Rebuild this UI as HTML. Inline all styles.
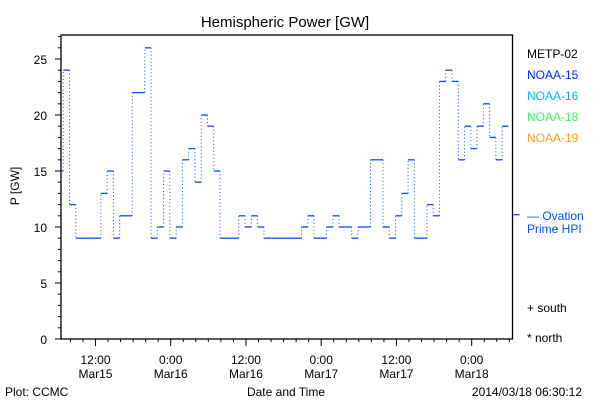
<!DOCTYPE html>
<html><head><meta charset="utf-8"><style>
body{margin:0;background:#fff;}
svg text{font-family:"Liberation Sans",sans-serif;}
</style></head><body>
<svg id="c" width="600" height="400" viewBox="0 0 600 400" xmlns="http://www.w3.org/2000/svg">
<rect width="600" height="400" fill="#fff"/>
<text x="285" y="27" font-size="15" text-anchor="middle">Hemispheric Power [GW]</text>
<text x="19" y="186" font-size="12" text-anchor="middle" transform="rotate(-90 19 186)">P [GW]</text>
<text x="5" y="396" font-size="12">Plot: CCMC</text>
<text x="286" y="396" font-size="12" text-anchor="middle">Date and Time</text>
<text x="582" y="396" font-size="12" text-anchor="end">2014/03/18 06:30:12</text>
<g font-size="12">
<text x="527" y="58" fill="#000">METP-02</text>
<text x="527" y="79" fill="#0028ff">NOAA-15</text>
<text x="527" y="100" fill="#00b4ff">NOAA-16</text>
<text x="527" y="121" fill="#40f060">NOAA-18</text>
<text x="527" y="142" fill="#ff9a20">NOAA-19</text>
<text x="527" y="220" fill="#0050ff">— Ovation</text>
<text x="527" y="233" fill="#0050ff">Prime HPI</text>
<text x="527" y="312" fill="#000">+ south</text>
<text x="527" y="342" fill="#000">* north</text>
</g>
<g id="axes"></g>
<g id="series"></g>
</svg>
<script>
const hoursOffset = [-0.64];
const values = [15,24,12,9,9,9,9,13,15,9,11,11,22,22,26,9,10,15,9,10,16,17,14,20,19,15,9,9,9,11,10,11,10,9,9,9,9,9,9,10,11,9,9,10,11,10,10,9,10,10,16,16,10,9,11,13,16,9,9,12,11,23,24,23,16,19,17,19,21,18,16,19];
const yTicks = [0,5,10,15,20,25];
const xTickHours = [5.5,17.5,29.5,41.5,53.5,65.5];
const xTickLabels1 = ["12:00","0:00","12:00","0:00","12:00","0:00"];
const xTickLabels2 = ["Mar15","Mar16","Mar16","Mar17","Mar17","Mar18"];
const ovationValue = [11.1];

const L=61,R=512.5,T=35,B=339,PXH=6.27,PXV=11.2,NS="http://www.w3.org/2000/svg";
const xs=h=>L+h*PXH, ys=v=>B-v*PXV;
function mk(tag,attrs,parent){const e=document.createElementNS(NS,tag);for(const k in attrs)e.setAttribute(k,attrs[k]);parent.appendChild(e);return e;}
const ax=document.getElementById('axes'), se=document.getElementById('series');
const frame=mk('rect',{x:L,y:T,width:R-L,height:B-T,fill:'none',stroke:'#000','stroke-width':1.3},ax);


for(let v=0;v<=27;v++){
 const len=v%5===0?6:3;
 const t=mk('line',{x1:L-len,x2:L,y1:ys(v),y2:ys(v),stroke:'#000'},ax);
 
 
}
yTicks.forEach(v=>{
 const t=mk('text',{x:47,y:ys(v)+5,'font-size':12,'text-anchor':'end'},ax);t.textContent=v;
 
 
});
for(let h=1.5;h<=72;h+=2){
 const major=xTickHours.some(m=>Math.abs(m-h)<0.01);
 const t=mk('line',{x1:xs(h),x2:xs(h),y1:B,y2:B+(major?7:3),stroke:'#000'},ax);
 
 
}
xTickHours.forEach((h,i)=>{
 const a=mk('text',{x:xs(h),y:364,'font-size':12,'text-anchor':'middle'},ax);a.textContent=xTickLabels1[i];
 
 
 const b=mk('text',{x:xs(h),y:378,'font-size':12,'text-anchor':'middle'},ax);b.textContent=xTickLabels2[i];
 
 
});
const col='#0050ff';
values.forEach((v,i)=>{
 const x1=Math.max(L,xs(i+hoursOffset[0])), x2=Math.min(R,xs(i+1+hoursOffset[0]));
 const h=mk('line',{x1:x1,x2:x2,y1:ys(v),y2:ys(v),stroke:col,'stroke-width':1.3},se);
 
 
 if(i<values.length-1){
  const vv=mk('line',{x1:x2,x2:x2,y1:ys(v),y2:ys(values[i+1]),stroke:col,'stroke-width':1,'stroke-dasharray':'1 2.5'},se);
  
  
 }
});
const ov=mk('line',{x1:R+1,x2:R+7,y1:ys(ovationValue[0]),y2:ys(ovationValue[0]),stroke:col,'stroke-width':1.3},se);


</script>
</body></html>
